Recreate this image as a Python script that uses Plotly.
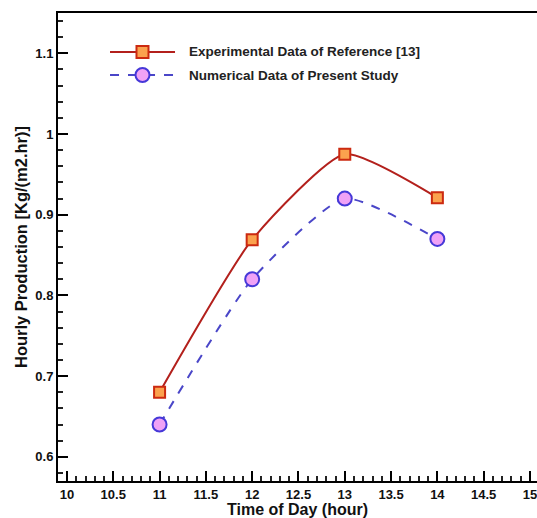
import plotly.graph_objects as go

# Hourly production versus time of day
hours = [11, 12, 13, 14]
experimental = [0.68, 0.869, 0.975, 0.921]
numerical = [0.64, 0.82, 0.92, 0.87]

x_ticks = [10, 10.5, 11, 11.5, 12, 12.5, 13, 13.5, 14, 14.5, 15]
x_labels = ["10", "10.5", "11", "11.5", "12", "12.5", "13", "13.5", "14", "14.5", "15"]
y_ticks = [0.6, 0.7, 0.8, 0.9, 1.0, 1.1]
y_labels = ["0.6", "0.7", "0.8", "0.9", "1", "1.1"]

exp_name = "Experimental Data of Reference [13]"
num_name = "Numerical Data of Present Study"

red_line = "#b3201c"
red_edge = "#cc2a10"
orange_fill = "#fba24e"
blue_line = "#4a46c8"
blue_edge = "#4638d8"
violet_fill = "#f0a2f6"

FONT = "Liberation Sans, Arial, sans-serif"
SMOOTH = 0.55

fig = go.Figure()
fig.add_trace(go.Scatter(
    x=hours, y=experimental, mode="lines+markers", name=exp_name,
    line=dict(color=red_line, width=2, shape="spline", smoothing=SMOOTH),
    marker=dict(symbol="square", size=11, color=orange_fill,
                line=dict(color=red_edge, width=2)),
    showlegend=False,
))
fig.add_trace(go.Scatter(
    x=hours, y=numerical, mode="lines+markers", name=num_name,
    line=dict(color=blue_line, width=2, dash="dash", shape="spline", smoothing=SMOOTH),
    marker=dict(symbol="circle", size=14, color=violet_fill,
                line=dict(color=blue_edge, width=2)),
    showlegend=False,
))

# Hand-drawn legend block (paper coordinates)
shapes = []
annotations = []
rows = [
    (0.9167, red_line, "solid", "square", orange_fill, red_edge, exp_name),
    (0.8675, blue_line, "dash", "circle", violet_fill, blue_edge, num_name),
]
for y, lc, dash, sym, fill, edge, label in rows:
    shapes.append(dict(type="line", xref="paper", yref="paper",
                       x0=0.1086, x1=0.2443, y0=y, y1=y,
                       line=dict(color=lc, width=2, dash=dash)))
    half = 6 if sym == "square" else 7
    shapes.append(dict(type="rect" if sym == "square" else "circle",
                       xref="paper", yref="paper",
                       xsizemode="pixel", ysizemode="pixel",
                       xanchor=0.1764, yanchor=y,
                       x0=-half, x1=half, y0=-half, y1=half,
                       fillcolor=fill, line=dict(color=edge, width=2)))
    annotations.append(dict(xref="paper", yref="paper", x=0.2693, y=y,
                            xanchor="left", yanchor="middle", showarrow=False,
                            text=f"<b>{label}</b>",
                            font=dict(family=FONT, size=13.5, color="#222")))

tick_font = dict(family=FONT, size=13, color="#111")

fig.update_layout(
    width=537, height=518,
    margin=dict(l=58, r=0, t=13, b=37),
    paper_bgcolor="white", plot_bgcolor="white",
    font=dict(family=FONT, size=12, color="#111"),
    shapes=shapes, annotations=annotations,
    xaxis=dict(
        range=[9.903, 15.076], tickmode="array",
        tickvals=x_ticks, ticktext=[f"<b>{t}</b>" for t in x_labels],
        ticks="inside", ticklen=10, tickwidth=2, tickcolor="black",
        minor=dict(tickmode="linear", tick0=10, dtick=0.1, ticks="inside",
                   ticklen=5, tickwidth=1.5, tickcolor="#222", showgrid=False),
        showline=True, linecolor="black", linewidth=2, mirror=True,
        showgrid=False, zeroline=False, layer="above traces",
        tickfont=tick_font, ticklabeloverflow="allow",
        title=dict(text="<b>Time of Day (hour)</b>", standoff=0,
                   font=dict(family=FONT, size=16, color="#111")),
    ),
    yaxis=dict(
        range=[0.570, 1.150], tickmode="array",
        tickvals=y_ticks, ticktext=[f"<b>{t}</b>" for t in y_labels],
        ticks="inside", ticklen=10, tickwidth=2, tickcolor="black",
        minor=dict(tickmode="linear", tick0=0.6, dtick=0.02, ticks="inside",
                   ticklen=5, tickwidth=1.5, tickcolor="#222", showgrid=False),
        showline=True, linecolor="black", linewidth=2, mirror=False,
        showgrid=False, zeroline=False, layer="above traces",
        tickfont=tick_font,
        title=dict(text="<b>Hourly Production [Kg/(m2.hr)]</b>", standoff=4,
                   font=dict(family=FONT, size=16.5, color="#111")),
    ),
)

fig.write_html("out.html")
